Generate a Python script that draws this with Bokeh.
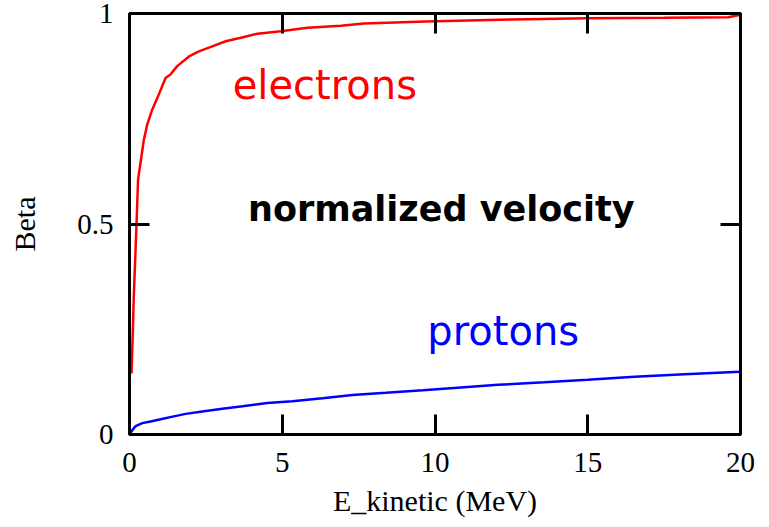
from bokeh.plotting import figure
from bokeh.models import (LinearAxis, Range1d, FixedTicker, Label, NumeralTickFormatter,
                          CustomJSTickFormatter)
from bokeh.embed import file_html
from bokeh.resources import INLINE

# Data
e_kin_electron = [0.066, 0.11, 0.14, 0.23, 0.28, 0.47, 0.58, 0.74, 0.91, 1.18, 1.34, 1.56,
                  1.95, 2.27, 2.71, 3.15, 3.68, 4.19, 4.95, 5.83, 6.92, 7.67, 9.7, 12.5,
                  15.0, 17.5, 19.6, 20.0]
beta_electron = [0.145, 0.248, 0.327, 0.500, 0.605, 0.700, 0.736, 0.771, 0.799, 0.847, 0.855,
                 0.875, 0.898, 0.910, 0.922, 0.934, 0.943, 0.952, 0.958, 0.966, 0.971, 0.976,
                 0.981, 0.986, 0.989, 0.990, 0.991, 0.997]

e_kin_proton = [0.0, 0.07, 0.2, 0.42, 0.69, 1.02, 1.45, 1.84, 2.44, 3.04, 3.70, 4.51, 5.33,
                6.32, 7.30, 8.39, 9.60, 10.74, 12.06, 13.58, 15.0, 16.53, 18.17, 19.98]
beta_proton = [0.0, 0.008, 0.020, 0.027, 0.031, 0.036, 0.043, 0.049, 0.055, 0.061, 0.067,
               0.075, 0.079, 0.086, 0.094, 0.099, 0.105, 0.111, 0.118, 0.124, 0.130, 0.137,
               0.143, 0.149]

x_ticks = [0, 5, 10, 15, 20]
y_ticks = [0, 0.5, 1]

serif = "Liberation Serif"
sans = "DejaVu Sans"

p = figure(width=765, height=525, output_backend="svg", toolbar_location=None,
           x_range=Range1d(0, 20), y_range=Range1d(0, 1),
           min_border_left=129, min_border_right=25, min_border_top=13, min_border_bottom=91,
           x_axis_label="E_kinetic (MeV)", y_axis_label="Beta")

p.xgrid.visible = False
p.ygrid.visible = False
p.outline_line_color = "black"
p.outline_line_width = 3
p.background_fill_color = "white"
p.border_fill_color = "white"

def style_axis(ax, ticks, show_labels):
    ax.ticker = FixedTicker(ticks=ticks)
    ax.major_tick_in = 20
    ax.major_tick_out = 0
    ax.minor_tick_in = 0
    ax.minor_tick_out = 0
    ax.major_tick_line_width = 3
    ax.major_tick_line_color = "black"
    ax.axis_line_width = 3
    ax.axis_line_color = "black"
    ax.major_label_text_font = serif
    ax.major_label_text_font_size = "29px"
    ax.major_label_text_color = "black"
    ax.axis_label_text_font = serif
    ax.axis_label_text_font_size = "30px"
    ax.axis_label_text_font_style = "normal"
    ax.axis_label_text_color = "black"
    if not show_labels:
        ax.formatter = CustomJSTickFormatter(code="return ''")
        ax.major_label_standoff = 0

style_axis(p.xaxis[0], x_ticks, True)
style_axis(p.yaxis[0], y_ticks, True)
p.xaxis[0].major_label_standoff = 18
p.xaxis[0].axis_label_standoff = 9
p.yaxis[0].major_label_standoff = 16
p.yaxis[0].axis_label_standoff = 33
p.yaxis[0].formatter = NumeralTickFormatter(format="0.[0]")

top = LinearAxis()
style_axis(top, x_ticks, False)
p.add_layout(top, "above")

right = LinearAxis()
style_axis(right, y_ticks, False)
p.add_layout(right, "right")

p.line(e_kin_electron, beta_electron, line_color="red", line_width=2.5)
p.line(e_kin_proton, beta_proton, line_color="blue", line_width=2.5)

p.add_layout(Label(x=3.38, y=0.829, text="electrons", text_color="red",
                   text_font=sans, text_font_size="40px", text_align="left",
                   text_baseline="alphabetic"))
p.add_layout(Label(x=3.88, y=0.536, text="normalized velocity", text_color="black",
                   text_font=sans, text_font_size="35px", text_font_style="bold",
                   text_align="left", text_baseline="alphabetic"))
p.add_layout(Label(x=9.75, y=0.245, text="protons", text_color="blue",
                   text_font=sans, text_font_size="40px", text_align="left",
                   text_baseline="alphabetic"))

open("out.html", "w").write(file_html(p, INLINE))
